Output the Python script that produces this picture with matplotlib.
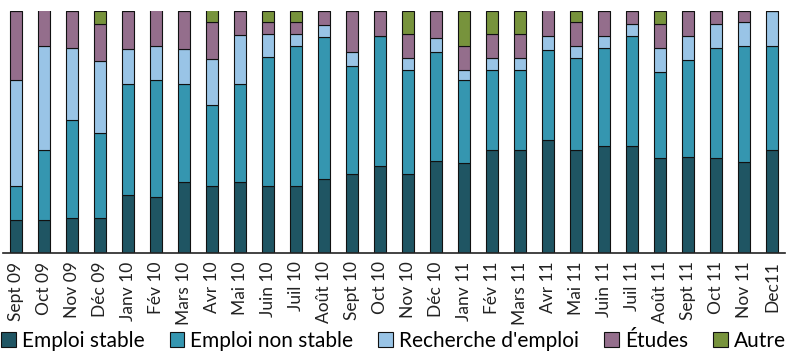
import matplotlib as mpl
mpl.use('Agg')
import matplotlib.pyplot as plt
import numpy as np

# month labels and shares (%) of each situation
mois = ['Sept 09', 'Oct 09', 'Nov 09', 'Déc 09', 'Janv 10', 'Fév 10', 'Mars 10',
        'Avr 10', 'Mai 10', 'Juin 10', 'Juil 10', 'Août 10', 'Sept 10', 'Oct 10',
        'Nov 10', 'Déc 10', 'Janv 11', 'Fév 11', 'Mars 11', 'Avr 11', 'Mai 11',
        'Juin 11', 'Juil 11', 'Août 11', 'Sept 11', 'Oct 11', 'Nov 11', 'Dec11']

emploi_stable = [13.6, 13.6, 14.5, 14.5, 24.0, 23.1, 29.3, 27.7, 29.3, 27.7,
                 27.7, 30.6, 32.6, 36.0, 32.6, 38.0, 37.2, 42.6, 42.6, 46.7,
                 42.6, 44.2, 44.2, 39.3, 39.7, 39.3, 37.6, 42.6]
emploi_non_stable = [14.0, 28.9, 40.5, 35.1, 45.9, 48.3, 40.5, 33.5, 40.5, 53.3,
                     57.9, 58.7, 44.6, 53.7, 43.0, 45.0, 34.3, 33.1, 33.1, 37.2,
                     38.0, 40.5, 45.5, 35.5, 40.1, 45.5, 47.9, 43.0]
recherche = [43.8, 43.0, 29.8, 29.8, 14.5, 14.0, 14.5, 19.0, 20.2, 9.5,
             5.0, 5.0, 5.8, 0.0, 5.0, 5.8, 4.1, 5.0, 5.0, 5.8,
             5.0, 5.0, 5.0, 9.9, 9.9, 9.9, 9.9, 14.5]
etudes = [28.5, 15.3, 15.3, 15.3, 15.7, 15.3, 15.7, 15.3, 9.9, 5.0,
          5.0, 5.8, 16.9, 10.3, 9.9, 11.2, 9.9, 9.9, 9.9, 11.2,
          9.9, 10.3, 5.4, 9.9, 10.3, 5.4, 4.5, 0.0]
autre = [0.0, 0.0, 0.0, 5.4, 0.0, 0.0, 0.0, 5.4, 0.0, 4.5,
         4.5, 0.0, 0.0, 0.0, 9.5, 0.0, 14.5, 9.5, 9.5, 0.0,
         4.5, 0.0, 0.0, 5.4, 0.0, 0.0, 0.0, 0.0]

series = [('Emploi stable', emploi_stable, '#1f5563'),
          ('Emploi non stable', emploi_non_stable, '#3596b0'),
          ("Recherche d'emploi", recherche, '#99c4e6'),
          ('Études', etudes, '#946e8c'),
          ('Autre', autre, '#77933c')]

plt.rcParams['font.family'] = ['Lato', 'DejaVu Sans']

fig = plt.figure(figsize=(7.87, 3.51), dpi=100)
ax = fig.add_axes([0.004, 0.279, 0.9935, 0.6895])

x = np.arange(len(mois))
bottom = np.zeros(len(mois))
for nom, vals, col in series:
    vals = np.array(vals)
    ax.bar(x, vals, width=0.43, bottom=bottom, color=col, edgecolor='#111111',
           linewidth=0.8, label=nom)
    bottom += vals

ax.set_xlim(-0.46, len(mois) - 0.54)
ax.set_ylim(0, 100)
ax.set_yticks([])
ax.set_xticks(x)
ax.set_xticklabels(mois, rotation=90, fontsize=12.5, color='#222222')
ax.tick_params(axis='x', length=0, pad=6)
for s in ['top', 'right', 'left']:
    ax.spines[s].set_visible(False)
ax.spines['bottom'].set_linewidth(1.2)
ax.spines['bottom'].set_color('#222222')

fig.legend(loc='lower center', bbox_to_anchor=(0.5, -0.035), ncol=5, frameon=False,
           fontsize=15, handlelength=0.7, handleheight=0.7, handletextpad=0.3,
           columnspacing=1.2, borderaxespad=0.2)

plt.savefig('out.png', dpi=100)
